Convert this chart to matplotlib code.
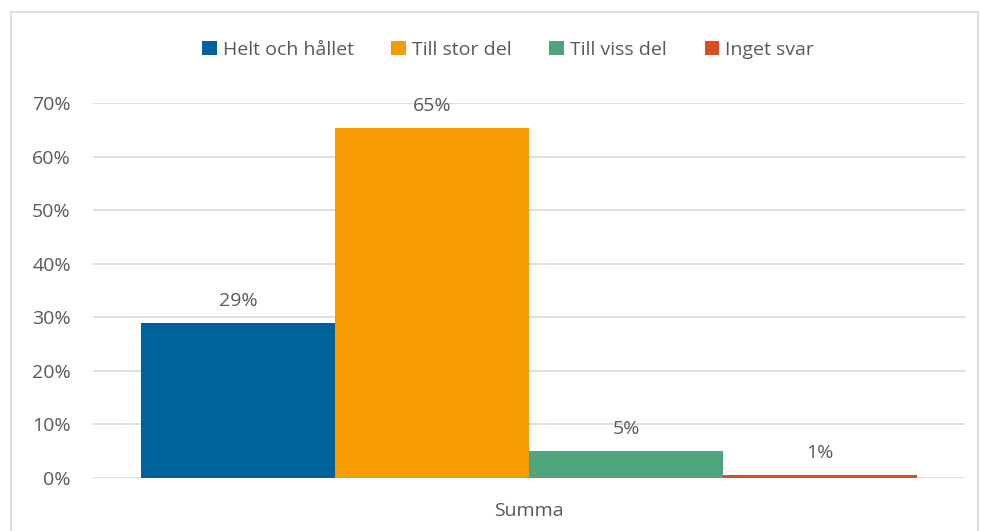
import matplotlib.pyplot as plt
from matplotlib.patches import Rectangle
import numpy as np

plt.rcParams['font.family'] = ['Open Sans', 'DejaVu Sans']

categories = ['Helt och hållet', 'Till stor del', 'Till viss del', 'Inget svar']
values = [0.29, 0.653, 0.05, 0.005]
labels = ['29%', '65%', '5%', '1%']
colors = ['#00629b', '#f59c00', '#50a47d', '#d9501e']
group = 'Summa'

txt = '#595959'
fs = 14
fig = plt.figure(figsize=(9.81, 5.31), dpi=100)
ax = fig.add_axes([93 / 981, 53 / 531, 872 / 981, 375 / 531])

# outer chart border like Excel
fig.patches.append(Rectangle((11 / 981, -0.05), 967 / 981, 1.05 - 12 / 531,
                             transform=fig.transFigure, fill=False,
                             edgecolor='#d9d9d9', lw=1.2))

n = len(values)
width = 0.89 / n
x = -0.445 + width / 2 + np.arange(n) * width
for xi, v, lab, c, name in zip(x, values, labels, colors, categories):
    ax.bar(xi, v, width=width, color=c, label=name, zorder=3)
    ax.text(xi, v + 0.024, lab, ha='center', va='bottom', fontsize=fs, color=txt)

ax.set_xlim(-0.5, 0.5)
ax.set_ylim(0, 0.7)
ax.set_yticks(np.arange(0, 0.71, 0.1))
ax.set_yticklabels([f'{int(round(t * 100))}%' for t in np.arange(0, 0.71, 0.1)])
ax.set_xticks([0])
ax.set_xticklabels([group])
ax.tick_params(axis='both', length=0, labelsize=fs, labelcolor=txt)
ax.tick_params(axis='y', pad=16)
ax.tick_params(axis='x', pad=17)
ax.grid(axis='y', color='#d9d9d9', lw=1.2, zorder=0)
for s in ax.spines.values():
    s.set_visible(False)

fig.legend(loc='center', bbox_to_anchor=(508 / 981, 1 - 50 / 531), ncol=4,
           frameon=False, fontsize=fs, labelcolor=txt, handlelength=0.75,
           handleheight=0.75, handletextpad=0.3, columnspacing=1.95)

fig.savefig('out.png', dpi=100)
